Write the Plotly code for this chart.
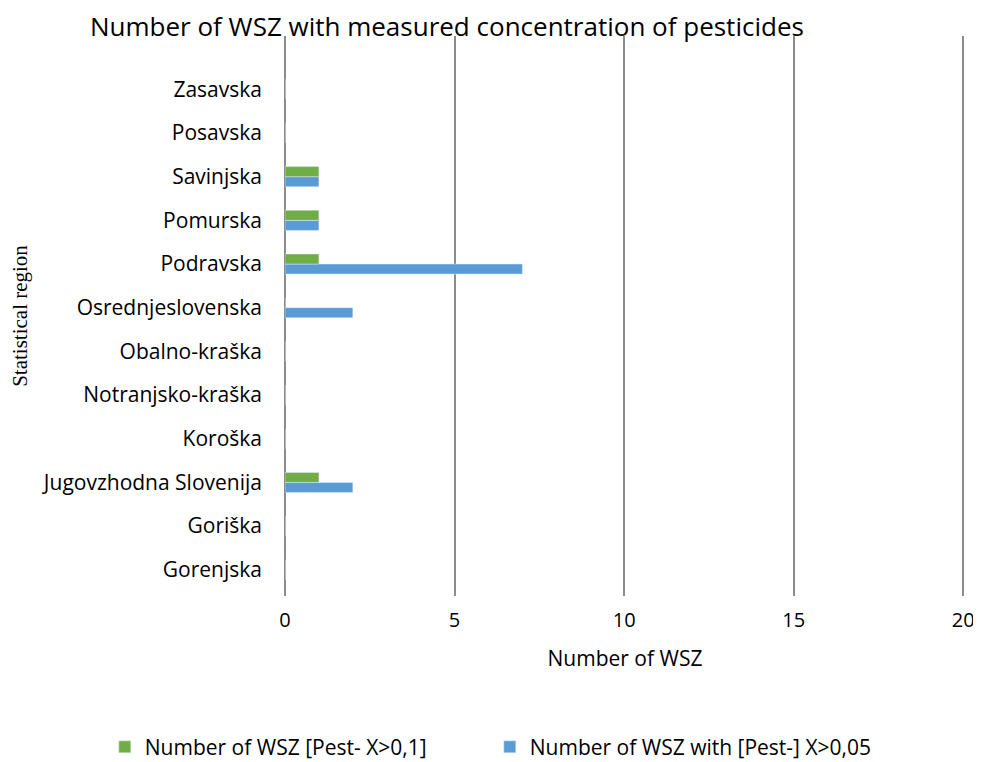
import plotly.graph_objects as go

regions = ["Gorenjska", "Goriška", "Jugovzhodna Slovenija", "Koroška",
           "Notranjsko-kraška", "Obalno-kraška", "Osrednjeslovenska",
           "Podravska", "Pomurska", "Savinjska", "Posavska", "Zasavska"]
pest_01 = [0, 0, 1, 0, 0, 0, 0, 1, 1, 1, 0, 0]
pest_005 = [0, 0, 2, 0, 0, 0, 2, 7, 1, 1, 0, 0]
x_ticks = [0, 5, 10, 15, 20]

font = "Open Sans, sans-serif"

# page body has an 8px margin, so the figure is 8px smaller than the window
W, H = 973, 754

fig = go.Figure()
# blue first so it sits below green within each group
fig.add_trace(go.Bar(
    y=regions, x=pest_005, orientation="h",
    name="Number of WSZ with [Pest-] X>0,05",
    marker=dict(color="#5B9BD5"), legendrank=2
))
fig.add_trace(go.Bar(
    y=regions, x=pest_01, orientation="h",
    name="Number of WSZ [Pest- X>0,1]",
    marker=dict(color="#70AD47"), legendrank=1
))

fig.update_layout(
    width=W, height=H,
    barmode="group", bargap=0.54, bargroupgap=0,
    plot_bgcolor="white", paper_bgcolor="white",
    margin=dict(l=277, r=16, t=28, b=166, autoexpand=False),
    font=dict(family=font, size=21, color="#000000"),
    title=dict(
        text="Number of WSZ with measured concentration of pesticides",
        x=82 / W, xanchor="left", y=1 - 19 / H, yanchor="middle",
        font=dict(size=26, family=font)
    ),
    xaxis=dict(
        range=[0, 20.05], tickvals=x_ticks, showgrid=True,
        gridcolor="#8c8c8c", gridwidth=2, zeroline=True,
        zerolinecolor="#8c8c8c", zerolinewidth=2,
        ticks="", ticklabelstandoff=10, automargin=False,
        tickfont=dict(size=20),
        title=dict(text="Number of WSZ", standoff=19, font=dict(size=21))
    ),
    yaxis=dict(
        range=[-0.6, 12.22], showgrid=False, ticks="",
        ticklabelstandoff=22, automargin=False,
        title=dict(text="Statistical region", standoff=21,
                   font=dict(family="Liberation Serif, Times New Roman, serif", size=21))
    ),
    legend=dict(
        orientation="h", x=-0.265, xanchor="left", y=-0.27, yanchor="middle",
        font=dict(size=21), itemwidth=30, entrywidth=340, traceorder="normal"
    ),
    showlegend=True
)

fig.write_html("out.html")
